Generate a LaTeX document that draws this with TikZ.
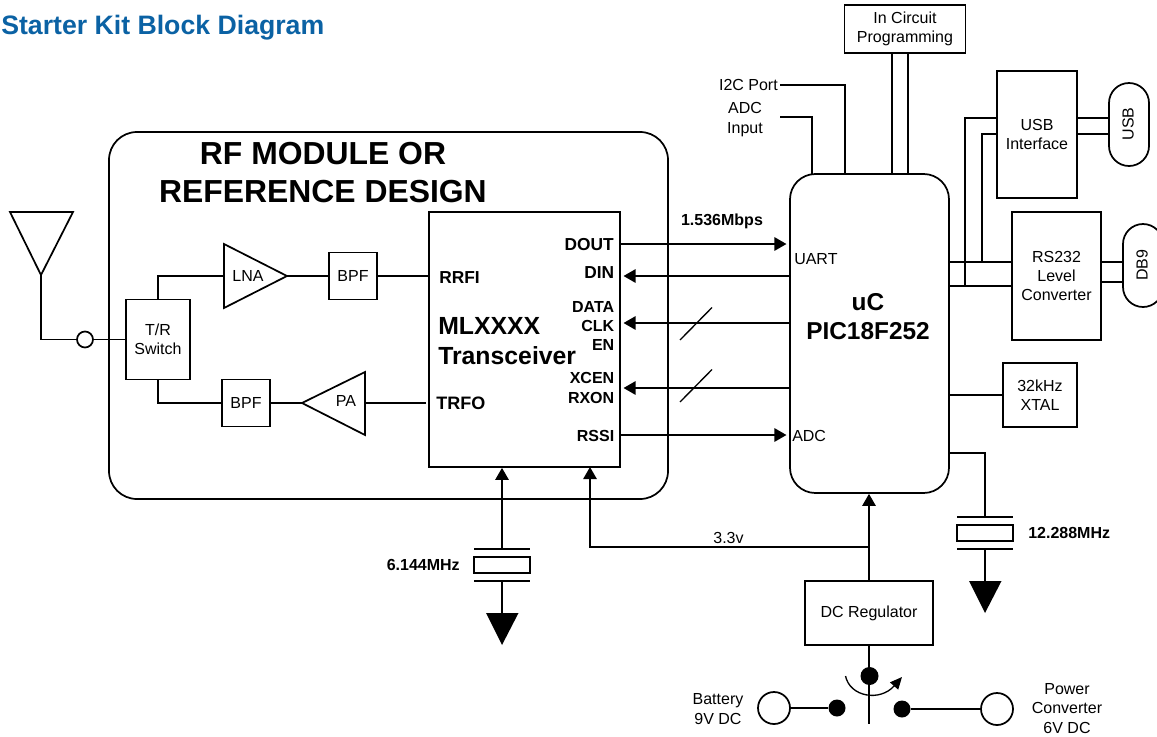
\documentclass[tikz,border=0pt]{standalone}
\usepackage{fontspec}
\setmainfont{Liberation Sans}
\usetikzlibrary{arrows.meta,calc}
\definecolor{titleblue}{HTML}{0B62A4}
\tikzset{
  wire/.style={line width=1.3pt},
  arr/.style={line width=1.3pt,-{Triangle[length=9pt,width=10pt]},shorten >=2pt},
  box/.style={draw,line width=1.3pt,inner sep=0pt,align=center,font=\fontsize{12}{14.5}\selectfont},
  tri/.style={draw,line width=1.3pt,line join=miter},
  txt/.style={inner sep=0pt,align=center,font=\fontsize{12}{14.5}\selectfont},
  pin/.style={inner sep=0pt,align=right,anchor=east,font=\bfseries\fontsize{12}{14.3}\selectfont},
  pinbig/.style={inner sep=0pt,anchor=east,font=\bfseries\fontsize{13}{15}\selectfont},
  freq/.style={inner sep=0pt,font=\bfseries\fontsize{12}{14}\selectfont},
  dot/.style={circle,fill=black,draw=none,minimum size=#1,inner sep=0pt},
  port/.style={circle,draw,fill=white,line width=1.3pt,minimum size=#1,inner sep=0pt},
  gnd/.style={fill=black,draw=none},
}
\begin{document}
\begin{tikzpicture}[x=0.75pt,y=-0.75pt]
\useasboundingbox (0,0) rectangle (1157,736);
\clip (0,0) rectangle (1157,736);
\node[anchor=west,inner sep=0pt,text=titleblue,font=\bfseries\fontsize{20}{22}\selectfont] (title) at (1,28) {Starter Kit Block Diagram};

% main blocks
\node[box,rounded corners=21pt,minimum width=559*0.75pt,minimum height=367*0.75pt] (mod) at (388.5,315.5) {};
\node[txt,font=\bfseries\fontsize{23.9}{28}\selectfont] (modt) at (323,172.5) {RF MODULE OR\\REFERENCE DESIGN};
\node[box,minimum width=191*0.75pt,minimum height=255*0.75pt] (mlx) at (524.5,339.5) {};
\node[box,rounded corners=19pt,minimum width=159*0.75pt,minimum height=319*0.75pt] (uc) at (869.5,333.5) {};
\node[txt,font=\bfseries\fontsize{18.3}{22}\selectfont] (uct) at (868,316.5) {uC\\PIC18F252};
\node[txt,anchor=west] (uart) at (794,259) {UART};
\node[txt,anchor=west] (adc) at (792,436) {ADC};

% RF section
\node[box,minimum width=64*0.75pt,minimum height=80*0.75pt] (tr) at (158,339.5) {T/R\\Switch};
\node[box,minimum width=48*0.75pt,minimum height=47*0.75pt] (bpf1) at (353,276) {BPF};
\node[box,minimum width=48*0.75pt,minimum height=47*0.75pt] (bpf2) at (246,403) {BPF};
\coordinate (lnai) at (224,276);
\coordinate (lnao) at (287,276);
\coordinate (pai) at (365,403);
\coordinate (pao) at (302,403);
\draw[tri] (224,244) -- (lnao) -- (224,308) -- cycle;
\draw[tri] (365,372) -- (pao) -- (365,435) -- cycle;
\node[txt] (lna) at (248,276) {LNA};
\node[txt] (pa) at (346,401) {PA};
% antenna
\coordinate (anttip) at (41,275);
\draw[tri] (10,212) -- (73,212) -- (anttip) -- cycle;
\node[port=16*0.75pt] (rfport) at (85,339.5) {};
\draw[wire] (anttip) |- (rfport.west);
\draw[wire] (rfport.east) -- (tr.west);
\draw[wire] (tr.north) |- (lnai);
\draw[wire] (lnao) -- (bpf1.west);
\draw[wire] (bpf1.east) -- (mlx.west |- bpf1.east);
\draw[wire] (tr.south) |- (bpf2.west);
\draw[wire] (bpf2.east) -- (pao);
\coordinate (trfoend) at (426,403);
\draw[wire] (pai) -- (trfoend);

% transceiver labels
\node[pinbig,anchor=west] (rrfi) at (439,278) {RRFI};
\node[pinbig,font=\bfseries\fontsize{13.5}{15}\selectfont,anchor=west] (trfo) at (436,403) {TRFO};
\node[txt,anchor=west,align=left,font=\bfseries\fontsize{18.6}{22.5}\selectfont] (mlxt) at (438,341) {MLXXXX\\Transceiver};
\node[pinbig] (dout) at (614,245) {DOUT};
\node[pinbig] (din) at (614.5,273) {DIN};
\node[pin] (dce) at (614.5,326) {DATA\\CLK\\EN};
\node[pin] (xr) at (614.5,388) {XCEN\\RXON};
\node[pin] (rssi) at (614.5,436) {RSSI};

% data connections
\draw[arr] (mlx.east |- 0,244) -- (uc.west |- 0,244);
\draw[arr] (uc.west |- 0,276) -- (mlx.east |- 0,276);
\draw[arr] (uc.west |- 0,323) -- (mlx.east |- 0,323);
\draw[arr] (uc.west |- 0,388) -- (mlx.east |- 0,388);
\draw[arr] (mlx.east |- 0,435) -- (uc.west |- 0,435);
\draw[line width=1pt] (680,340) -- (712,307.5);
\draw[line width=1pt] (680,402) -- (712,369.5);
\node[freq] (rate) at (722,221) {1.536Mbps};

% top of uC
\node[box,minimum width=121*0.75pt,minimum height=48*0.75pt] (icp) at (905,29) {In Circuit\\Programming};
\draw[wire] (892,53) -- (892,174) (908,53) -- (908,174);
\node[txt,anchor=east] (i2c) at (778,85) {I2C Port};
\node[txt] (adcin) at (745,119.5) {ADC\\Input};
\coordinate (i2cs) at (780,85);
\coordinate (adcs) at (780,117);
\draw[wire] (i2cs) -| (845,174);
\draw[wire] (adcs) -| (812,174);

% right side
\node[box,minimum width=80*0.75pt,minimum height=127*0.75pt] (usbif) at (1037,134.5) {USB\\Interface};
\node[box,rounded corners=15pt,minimum width=40*0.75pt,minimum height=83*0.75pt] (usb) at (1129,124.5) {};
\node[txt,rotate=90] (usbt) at (1128,124) {USB};
\node[box,minimum width=89*0.75pt,minimum height=128*0.75pt] (rs) at (1056.5,276) {RS232\\Level\\Converter};
\node[box,rounded corners=15pt,minimum width=40*0.75pt,minimum height=83*0.75pt] (db9) at (1143,265.5) {};
\node[txt,rotate=90] (db9t) at (1142,265) {DB9};
\node[box,minimum width=74*0.75pt,minimum height=64*0.75pt] (xtal) at (1040,395) {32kHz\\XTAL};
\draw[wire] (uc.east |- 0,262) -- (rs.west |- 0,262);
\draw[wire] (uc.east |- 0,286) -- (rs.west |- 0,286);
\draw[wire] (965,286) |- (usbif.west |- 0,118);
\draw[wire] (982,262) |- (usbif.west |- 0,134);
\draw[wire] (usbif.east |- 0,118) -- (usb.west |- 0,118);
\draw[wire] (usbif.east |- 0,134) -- (usb.west |- 0,134);
\draw[wire] (rs.east |- 0,262) -- (db9.west |- 0,262);
\draw[wire] (rs.east |- 0,282) -- (db9.west |- 0,282);
\draw[wire] (uc.east |- xtal.west) -- (xtal.west);

% uC crystal
\node[box,minimum width=56*0.75pt,minimum height=16*0.75pt] (x2) at (985,533) {};
\coordinate (x2t) at (985,517);
\coordinate (x2b) at (985,549);
\draw[wire] (957,517) -- (1013,517) (957,549) -- (1013,549);
\coordinate (gnd2) at (985,581);
\draw[wire] (uc.east |- 0,453) -| (x2t);
\draw[wire] (x2b) -- (gnd2);
\draw[gnd] (969,581) -- (1001.5,581) -- (985,613) -- cycle;
\node[freq,anchor=west] (f2) at (1028,532.5) {12.288MHz};

% transceiver crystal
\node[box,minimum width=56*0.75pt,minimum height=16*0.75pt] (x1) at (502,565) {};
\coordinate (x1t) at (502,549);
\coordinate (x1b) at (502,581);
\draw[wire] (474,549) -- (530,549) (474,581) -- (530,581);
\coordinate (gnd1) at (502,613);
\draw[arr,shorten >=0pt] (x1t) -- (mlx.south -| x1t);
\draw[wire] (x1b) -- (gnd1);
\draw[gnd] (486,613) -- (518.5,613) -- (502,645) -- cycle;
\node[freq,anchor=east] (f1) at (460,564.5) {6.144MHz};

% regulator
\node[box,minimum width=128*0.75pt,minimum height=64*0.75pt] (reg) at (869,613) {DC Regulator};
\coordinate (join) at (869,547);
\draw[arr,shorten >=0pt] (reg.north) -- (uc.south -| reg.north);
\draw[arr,shorten >=0pt] (join) -| (590,467);
\node[txt] (v33) at (728.5,538) {3.3v};

% switch
\node[dot=18*0.75pt] (swc) at (869.5,676) {};
\node[dot=17*0.75pt] (swl) at (837,708) {};
\node[dot=17*0.75pt] (swr) at (902,709) {};
\node[port=32*0.75pt] (bat) at (774,708) {};
\node[port=32*0.75pt] (pwr) at (997,709) {};
\coordinate (swend) at (869,724);
\draw[wire] (reg.south) -- (swend);
\draw[wire] (bat.east) -- (swl);
\draw[wire] (swr) -- (pwr.west);
\draw[line width=1pt,-{Triangle[length=9pt,width=8pt]}] (845.5,676) .. controls (850,697) and (880,702) .. (902,677);
\node[txt] (batt) at (718,709) {Battery\\9V DC};
\node[txt] (pwrt) at (1067,708.5) {Power\\Converter\\6V DC};
\end{tikzpicture}
\end{document}
